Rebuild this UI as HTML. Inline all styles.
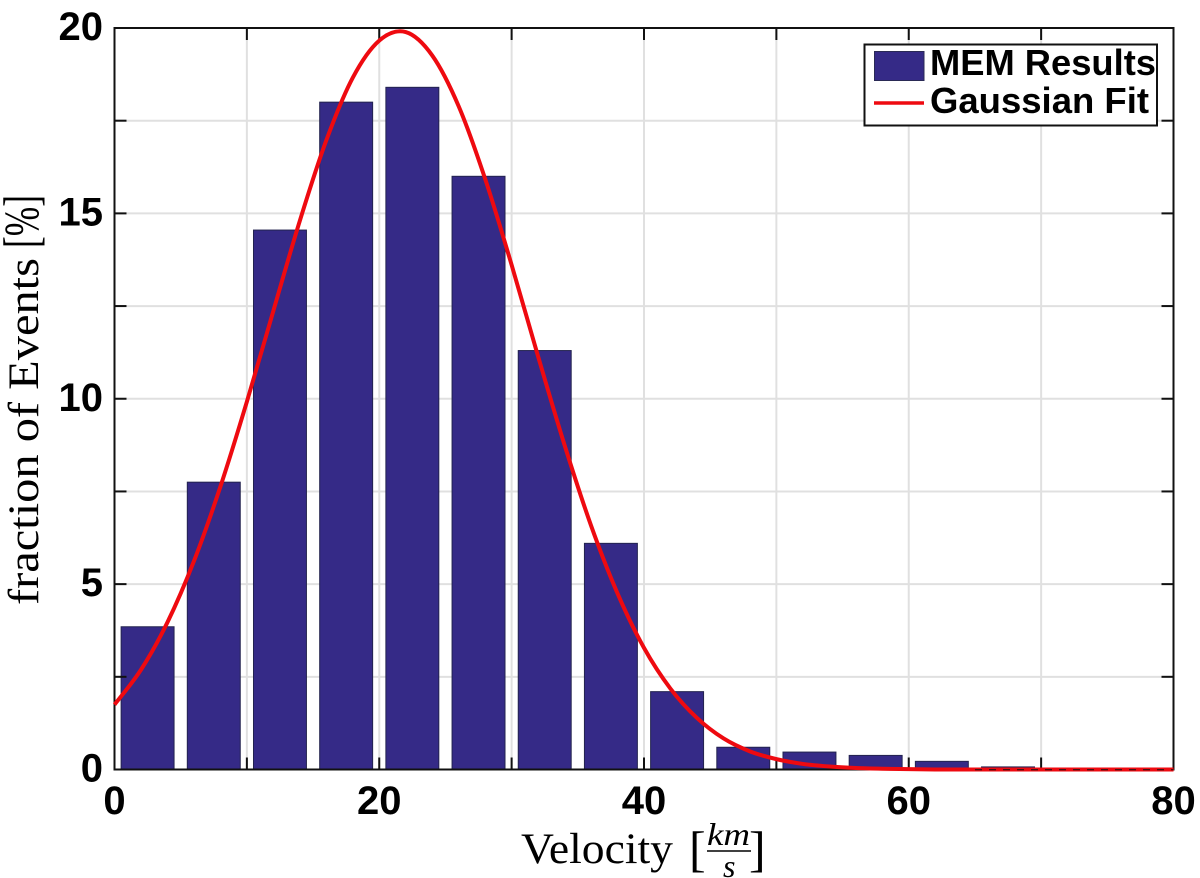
<!DOCTYPE html>
<html>
<head>
<meta charset="utf-8">
<title>Velocity distribution</title>
<style>
html,body{margin:0;padding:0;background:#fff;}
svg{display:block;}
.tick{font-family:"Liberation Sans",sans-serif;font-weight:bold;font-size:40px;fill:#000;}
.leg{font-family:"Liberation Sans",sans-serif;font-weight:bold;font-size:36px;fill:#000;}
.ser{font-family:"Liberation Serif",serif;fill:#000;}
</style>
</head>
<body>
<svg id="chart" width="1200" height="878" viewBox="0 0 1200 878" xmlns="http://www.w3.org/2000/svg">
  <g id="grid"></g>
  <g id="bars"></g>
  <g id="ticks"></g>
  <rect x="114.5" y="28" width="1059" height="741.5" fill="none" stroke="#111" stroke-width="2"></rect>
  <path id="fit" fill="none" stroke="#ee0a10" stroke-width="4" stroke-linejoin="round"></path>
  <line x1="975" x2="1173" y1="769.8" y2="769.8" stroke="#111" stroke-width="1" stroke-dasharray="7 7"></line>
  <g id="labels"></g>

  <g>
    <text class="ser" x="521" y="863" font-size="43" textLength="152" lengthAdjust="spacingAndGlyphs">Velocity</text>
    <text class="ser" x="689" y="866" font-size="50">[</text>
    <text class="ser" x="707" y="845" font-size="32" font-style="italic" textLength="43" lengthAdjust="spacingAndGlyphs">km</text>
    <line x1="707" x2="751" y1="851" y2="851" stroke="#000" stroke-width="1.4"></line>
    <text class="ser" x="723" y="877" font-size="32" font-style="italic">s</text>
    <text class="ser" x="749" y="866" font-size="50">]</text>
  </g>
  <g>
    <text class="ser" transform="translate(38 605) rotate(-90)" x="0" y="0" font-size="43" textLength="347" lengthAdjust="spacingAndGlyphs">fraction of Events</text>
    <text class="ser" transform="translate(38 248) rotate(-90)" x="0" y="0" font-size="50" textLength="53" lengthAdjust="spacingAndGlyphs">[%]</text>
  </g>

  <g>
    <rect x="864.5" y="44.5" width="292.5" height="81" fill="#fff" stroke="#111" stroke-width="2"></rect>
    <rect x="874.5" y="51.5" width="49.5" height="29" fill="#352a87" stroke="#2a2a55" stroke-width="1"></rect>
    <line x1="874" x2="924" y1="103" y2="103" stroke="#ee0a10" stroke-width="3.6"></line>
    <text class="leg" x="930" y="75" textLength="226" lengthAdjust="spacingAndGlyphs">MEM Results</text>
    <text class="leg" x="930" y="113" textLength="219" lengthAdjust="spacingAndGlyphs">Gaussian Fit</text>
  </g>
</svg>
<script>
// Histogram data
const binCenters = [2.5, 7.5, 12.5, 17.5, 22.5, 27.5, 32.5, 37.5, 42.5, 47.5, 52.5, 57.5, 62.5, 67.5];
const binValues = [3.85, 7.75, 14.55, 18.0, 18.4, 16.0, 11.3, 6.1, 2.1, 0.6, 0.47, 0.38, 0.22, 0.07];
const binWidth = 4;

// Fit curve samples
const fitX = [0, 2, 4, 6, 8, 10, 12, 14, 16, 18, 20, 22, 24, 26, 28, 30, 32, 34, 36, 38, 40, 42, 44, 46, 48, 50, 52, 54, 56, 58, 60, 62, 64, 66, 68, 70, 72, 74, 76, 78, 80];
const fitY = [1.75, 2.69, 3.97, 5.62, 7.63, 9.92, 12.37, 14.8, 16.97, 18.66, 19.66, 19.89, 19.26, 17.89, 15.93, 13.61, 11.14, 8.75, 6.58, 4.75, 3.28, 2.18, 1.39, 0.84, 0.49, 0.28, 0.15, 0.08, 0.04, 0.02, 0.01, 0, 0, 0, 0, 0, 0, 0, 0, 0, 0];

// Axis ticks
const xTicks = [0, 10, 20, 30, 40, 50, 60, 70, 80];
const xTickLabels = [0, 20, 40, 60, 80];
const yTicks = [0, 2.5, 5, 7.5, 10, 12.5, 15, 17.5, 20];
const yTickLabels = [0, 5, 10, 15, 20];

const NS = 'http://www.w3.org/2000/svg';
const xScale = v => 114.5 + v * (1173.5 - 114.5) / 80;
const yScale = v => 769.5 - v * (769.5 - 28) / 20;

function make(parent, tag, attrs) {
  const el = document.createElementNS(NS, tag);
  for (const k in attrs) el.setAttribute(k, attrs[k]);
  parent.appendChild(el);
  return el;
}

const grid = document.getElementById('grid');
const ticks = document.getElementById('ticks');
const bars = document.getElementById('bars');
const labels = document.getElementById('labels');

xTicks.forEach(t => {
  const x = xScale(t);
  if (t > 0 && t < 80) {
    const g = make(grid, 'line', {x1: x, x2: x, y1: 28, y2: 769.5, stroke: '#e0e0e0', 'stroke-width': 2});
    
    
  }
  [[769.5, 757.5], [28, 40]].forEach(p => {
    const m = make(ticks, 'line', {x1: x, x2: x, y1: p[0], y2: p[1], stroke: '#111', 'stroke-width': 2});
    
    
  });
});

yTicks.forEach(t => {
  const y = yScale(t);
  if (t > 0 && t < 20) {
    const g = make(grid, 'line', {x1: 114.5, x2: 1173.5, y1: y, y2: y, stroke: '#e0e0e0', 'stroke-width': 2});
    
    
  }
  [[114.5, 126.5], [1173.5, 1161.5]].forEach(p => {
    const m = make(ticks, 'line', {x1: p[0], x2: p[1], y1: y, y2: y, stroke: '#111', 'stroke-width': 2});
    
    
  });
});

binCenters.forEach((c, i) => {
  const left = xScale(c - binWidth / 2);
  const right = xScale(c + binWidth / 2);
  const top = yScale(binValues[i]);
  const b = make(bars, 'rect', {x: left, y: top, width: right - left, height: yScale(0) - top, fill: '#352a87', stroke: '#23234f', 'stroke-width': 1});
  
  
});

// Smooth path through the fit samples
const pts = fitX.map((x, i) => [xScale(x), yScale(fitY[i])]);
let d = 'M' + pts[0][0] + ' ' + pts[0][1];
for (let i = 0; i < pts.length - 1; i++) {
  const p0 = pts[Math.max(0, i - 1)], p1 = pts[i], p2 = pts[i + 1], p3 = pts[Math.min(pts.length - 1, i + 2)];
  const c1x = p1[0] + (p2[0] - p0[0]) / 6, c1y = p1[1] + (p2[1] - p0[1]) / 6;
  const c2x = p2[0] - (p3[0] - p1[0]) / 6, c2y = p2[1] - (p3[1] - p1[1]) / 6;
  d += ' C' + c1x + ' ' + c1y + ' ' + c2x + ' ' + c2y + ' ' + p2[0] + ' ' + p2[1];
}
document.getElementById('fit').setAttribute('d', d);

xTickLabels.forEach(t => {
  const el = make(labels, 'text', {x: xScale(t), y: 814, 'text-anchor': 'middle', class: 'tick'});
  el.textContent = t;
  
  
});

yTickLabels.forEach(t => {
  const el = make(labels, 'text', {x: 103, y: yScale(t) + 12, 'text-anchor': 'end', class: 'tick'});
  el.textContent = t;
  
  
});
</script>
</body>
</html>
